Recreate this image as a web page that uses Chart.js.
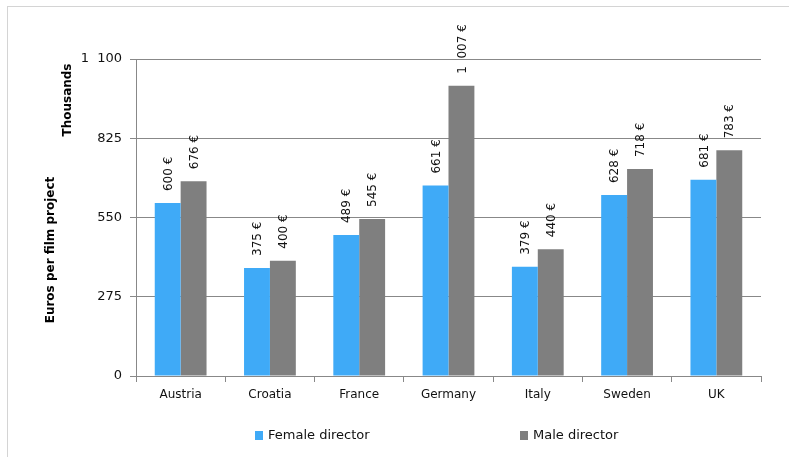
<!DOCTYPE html>
<html>
<head>
<meta charset="utf-8">
<script src="https://cdn.jsdelivr.net/npm/chart.js@4/dist/chart.umd.min.js"></script>
<style>
  html, body { margin: 0; padding: 0; background: #fff; }
  #wrap { width: 789px; height: 457px; position: relative; }
</style>
</head>
<body>
<div id="wrap"><canvas id="myChart" width="789" height="457"></canvas></div>
<script>
// values (thousands of euros)
const countries = ['Austria', 'Croatia', 'France', 'Germany', 'Italy', 'Sweden', 'UK'];
const femaleDirector = [600, 375, 489, 661, 379, 628, 681];
const maleDirector = [676, 400, 545, 1007, 440, 718, 783];
const yTicks = [0, 275, 550, 825, 1100];

const BLUE = '#3FAAF7';
const GREY = '#7F7F7F';
const FONT = '"DejaVu Sans", Verdana, sans-serif';

// thousands separated by a figure space, like "1 100"
function fmt(v) {
  return String(v).replace(/\B(?=(\d{3})+(?!\d))/g, '\u2007');
}

// border, axis titles, value labels and legend
const extras = {
  id: 'extras',
  beforeDraw(chart) {
    const ctx = chart.ctx;
    ctx.save();
    ctx.strokeStyle = '#d4d4d4';
    ctx.lineWidth = 1;
    ctx.strokeRect(7.5, 6.5, 820, 500);
    ctx.restore();
  },
  afterDraw(chart) {
    const ctx = chart.ctx;
    ctx.save();
    ctx.fillStyle = '#000';
    ctx.font = 'bold 12px ' + FONT;
    ctx.textAlign = 'center';
    ctx.textBaseline = 'middle';
    ctx.save();
    ctx.translate(68, 100);
    ctx.rotate(-Math.PI / 2);
    ctx.fillText('Thousands', 0, 0);
    ctx.restore();
    ctx.save();
    ctx.translate(51, 250);
    ctx.rotate(-Math.PI / 2);
    ctx.fillText('Euros per film project', 0, 0);
    ctx.restore();

    // value labels above the bars
    ctx.font = '12px ' + FONT;
    ctx.fillStyle = '#111';
    ctx.textAlign = 'left';
    chart.data.datasets.forEach((ds, i) => {
      const meta = chart.getDatasetMeta(i);
      meta.data.forEach((bar, j) => {
        ctx.save();
        ctx.translate(bar.x + 1, bar.y - 12);
        ctx.rotate(-Math.PI / 2);
        ctx.fillText(fmt(ds.data[j]) + ' \u20AC', 0, 0);
        ctx.restore();
      });
    });

    // legend
    const items = [['Female director', BLUE, 255], ['Male director', GREY, 520]];
    ctx.font = '13px ' + FONT;
    items.forEach(([txt, col, x]) => {
      ctx.fillStyle = col;
      ctx.fillRect(x, 431, 8, 9);
      ctx.fillStyle = '#111';
      ctx.fillText(txt, x + 13, 436);
    });
    ctx.restore();
  }
};

new Chart(document.getElementById('myChart'), {
  type: 'bar',
  data: {
    labels: countries,
    datasets: [
      { label: 'Female director', data: femaleDirector, backgroundColor: BLUE },
      { label: 'Male director', data: maleDirector, backgroundColor: GREY }
    ]
  },
  options: {
    responsive: false,
    animation: false,
    events: [],
    layout: { padding: { top: 59, right: 28, left: 0, bottom: 0 } },
    datasets: { bar: { categoryPercentage: 0.58, barPercentage: 1.0 } },
    plugins: { legend: { display: false }, tooltip: { enabled: false } },
    scales: {
      x: {
        afterFit(scale) { scale.height = 81; },
        grid: { offset: true, drawOnChartArea: false, tickLength: 6, color: '#888' },
        border: { color: '#888' },
        ticks: { font: { family: FONT, size: 12 }, color: '#111', padding: 6 }
      },
      y: {
        min: 0,
        max: 1100,
        afterFit(scale) { scale.width = 136; },
        afterBuildTicks(scale) { scale.ticks = yTicks.map(v => ({ value: v })); },
        grid: { color: '#888', tickLength: 6 },
        border: { color: '#888' },
        ticks: {
          font: { family: FONT, size: 13 },
          color: '#111',
          padding: 8,
          callback: v => fmt(v)
        }
      }
    }
  },
  plugins: [extras]
});
</script>
</body>
</html>
